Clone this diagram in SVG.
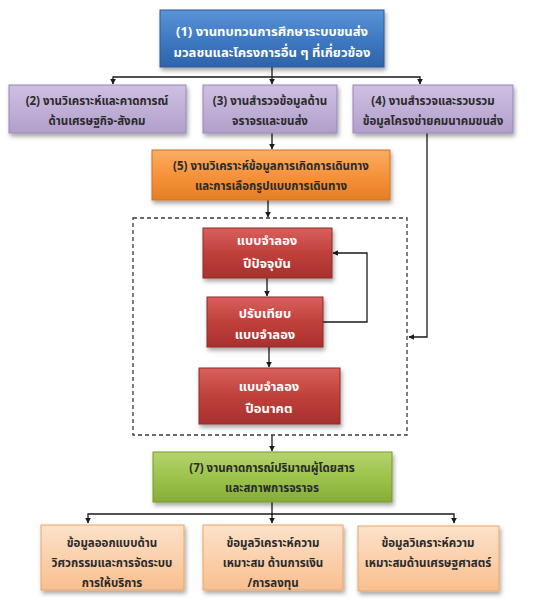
<svg xmlns="http://www.w3.org/2000/svg" width="548" height="604" viewBox="0 0 548 604">
<defs>
<style>
text{font-family:"Noto Sans Thai","Tahoma","Leelawadee UI","DejaVu Sans","Noto Sans",sans-serif;font-size:11.5px;font-weight:bold;text-anchor:middle}
.big{font-size:13px}
.w{fill:#ffffff}
.d{fill:#2a2a2a}
.c{fill:none;stroke:#1a1a1a;stroke-width:1.3}
</style>
<linearGradient id="gBlue" x1="0" y1="0" x2="0" y2="1"><stop offset="0" stop-color="#5b93d6"/><stop offset="0.5" stop-color="#3f7ac4"/><stop offset="1" stop-color="#2f63a8"/></linearGradient>
<linearGradient id="gPurple" x1="0" y1="0" x2="0" y2="1"><stop offset="0" stop-color="#cfc0e2"/><stop offset="1" stop-color="#b19fcb"/></linearGradient>
<linearGradient id="gOrange" x1="0" y1="0" x2="0" y2="1"><stop offset="0" stop-color="#fbae62"/><stop offset="0.5" stop-color="#f7923c"/><stop offset="1" stop-color="#e57f25"/></linearGradient>
<linearGradient id="gRed" x1="0" y1="0" x2="0" y2="1"><stop offset="0" stop-color="#d9605c"/><stop offset="0.5" stop-color="#c0403c"/><stop offset="1" stop-color="#a8302d"/></linearGradient>
<linearGradient id="gGreen" x1="0" y1="0" x2="0" y2="1"><stop offset="0" stop-color="#b5d46c"/><stop offset="0.5" stop-color="#9cc34c"/><stop offset="1" stop-color="#86ad38"/></linearGradient>
<linearGradient id="gPeach" x1="0" y1="0" x2="0" y2="1"><stop offset="0" stop-color="#fde2cb"/><stop offset="1" stop-color="#f9bf8e"/></linearGradient>
<filter id="sh" x="-10%" y="-10%" width="125%" height="140%"><feDropShadow dx="1.5" dy="3" stdDeviation="2" flood-color="#000" flood-opacity="0.35"/></filter>
<marker id="ah" viewBox="0 0 10 10" refX="9" refY="5" markerWidth="6" markerHeight="6" orient="auto-start-reverse" markerUnits="userSpaceOnUse"><path d="M0,0 L10,5 L0,10 z" fill="#1a1a1a"/></marker>
</defs>
<rect width="548" height="604" fill="#ffffff"/>

<g id="connectors">
<path class="c" d="M272,67 V77"/>
<path class="c" d="M113,84 V77 H420 V84" marker-start="url(#ah)" marker-end="url(#ah)"/>
<path class="c" d="M272,77 V84" marker-end="url(#ah)"/>
<path class="c" d="M272,133 V149" marker-end="url(#ah)"/>
<path class="c" d="M268,200 V217" marker-end="url(#ah)"/>
<path class="c" d="M267,278 V296" marker-end="url(#ah)"/>
<path class="c" d="M323,322 H367 V253 H333" marker-end="url(#ah)"/>
<path class="c" d="M269,347 V367" marker-end="url(#ah)"/>
<path class="c" d="M427,133 V337 H409" marker-end="url(#ah)"/>
<path class="c" d="M272,435 V451" marker-end="url(#ah)"/>
<path class="c" d="M272,502 V514"/>
<path class="c" d="M88,523 V514 H454 V523" marker-start="url(#ah)" marker-end="url(#ah)"/>
<path class="c" d="M272,514 V523" marker-end="url(#ah)"/>
<rect x="133" y="218" width="274" height="217" fill="none" stroke="#3a3a3a" stroke-width="1.3" stroke-dasharray="4,3"/>
</g>

<g id="n1">
<rect x="160" y="10" width="224" height="57" fill="url(#gBlue)" stroke="#2c5a94" stroke-width="1" filter="url(#sh)"/>
<text class="w big" x="272" y="36">(1) งานทบทวนการศึกษาระบบขนส่ง</text>
<text class="w big" x="272" y="57">มวลชนและโครงการอื่น ๆ ที่เกี่ยวข้อง</text>
</g>

<g id="n2">
<rect x="9" y="85" width="177" height="48" fill="url(#gPurple)" stroke="#9a86b8" stroke-width="1" filter="url(#sh)"/>
<text class="d" x="97" y="105">(2) งานวิเคราะห์และคาดการณ์</text>
<text class="d" x="97" y="125">ด้านเศรษฐกิจ-สังคม</text>
</g>

<g id="n3">
<rect x="203" y="85" width="134" height="48" fill="url(#gPurple)" stroke="#9a86b8" stroke-width="1" filter="url(#sh)"/>
<text class="d" x="270" y="105">(3) งานสำรวจข้อมูลด้าน</text>
<text class="d" x="270" y="125">จราจรและขนส่ง</text>
</g>

<g id="n4">
<rect x="353" y="85" width="160" height="48" fill="url(#gPurple)" stroke="#9a86b8" stroke-width="1" filter="url(#sh)"/>
<text class="d" x="433" y="105">(4) งานสำรวจและรวบรวม</text>
<text class="d" x="433" y="125">ข้อมูลโครงข่ายคมนาคมขนส่ง</text>
</g>

<g id="n5">
<rect x="152" y="150" width="238" height="50" fill="url(#gOrange)" stroke="#d07224" stroke-width="1" filter="url(#sh)"/>
<text class="d" x="271" y="170">(5) งานวิเคราะห์ข้อมูลการเกิดการเดินทาง</text>
<text class="d" x="271" y="190">และการเลือกรูปแบบการเดินทาง</text>
</g>

<g id="n6a">
<rect x="203" y="228" width="129" height="50" fill="url(#gRed)" stroke="#8f2a28" stroke-width="1" filter="url(#sh)"/>
<text class="w big" x="267" y="245">แบบจำลอง</text>
<text class="w big" x="267" y="268">ปีปัจจุบัน</text>
</g>

<g id="n6b">
<rect x="207" y="297" width="116" height="50" fill="url(#gRed)" stroke="#8f2a28" stroke-width="1" filter="url(#sh)"/>
<text class="w big" x="265" y="318">ปรับเทียบ</text>
<text class="w big" x="265" y="339">แบบจำลอง</text>
</g>

<g id="n6c">
<rect x="199" y="368" width="141" height="56" fill="url(#gRed)" stroke="#8f2a28" stroke-width="1" filter="url(#sh)"/>
<text class="w big" x="269" y="391">แบบจำลอง</text>
<text class="w big" x="269" y="413">ปีอนาคต</text>
</g>

<g id="n7">
<rect x="153" y="452" width="239" height="50" fill="url(#gGreen)" stroke="#76992f" stroke-width="1" filter="url(#sh)"/>
<text class="d" x="272" y="472">(7) งานคาดการณ์ปริมาณผู้โดยสาร</text>
<text class="d" x="272" y="492">และสภาพการจราจร</text>
</g>

<g id="n8">
<rect x="41" y="525" width="143" height="65" fill="url(#gPeach)" stroke="#e8a56a" stroke-width="1" filter="url(#sh)"/>
<text class="d" x="112" y="547">ข้อมูลออกแบบด้าน</text>
<text class="d" x="112" y="567">วิศวกรรมและการจัดระบบ</text>
<text class="d" x="112" y="587">การให้บริการ</text>
</g>

<g id="n9">
<rect x="203" y="525" width="140" height="65" fill="url(#gPeach)" stroke="#e8a56a" stroke-width="1" filter="url(#sh)"/>
<text class="d" x="273" y="547">ข้อมูลวิเคราะห์ความ</text>
<text class="d" x="273" y="567">เหมาะสม ด้านการเงิน</text>
<text class="d" x="273" y="587">/การลงทุน</text>
</g>

<g id="n10">
<rect x="358" y="526" width="141" height="65" fill="url(#gPeach)" stroke="#e8a56a" stroke-width="1" filter="url(#sh)"/>
<text class="d" x="428" y="547">ข้อมูลวิเคราะห์ความ</text>
<text class="d" x="428" y="567">เหมาะสมด้านเศรษฐศาสตร์</text>
</g>
</svg>
